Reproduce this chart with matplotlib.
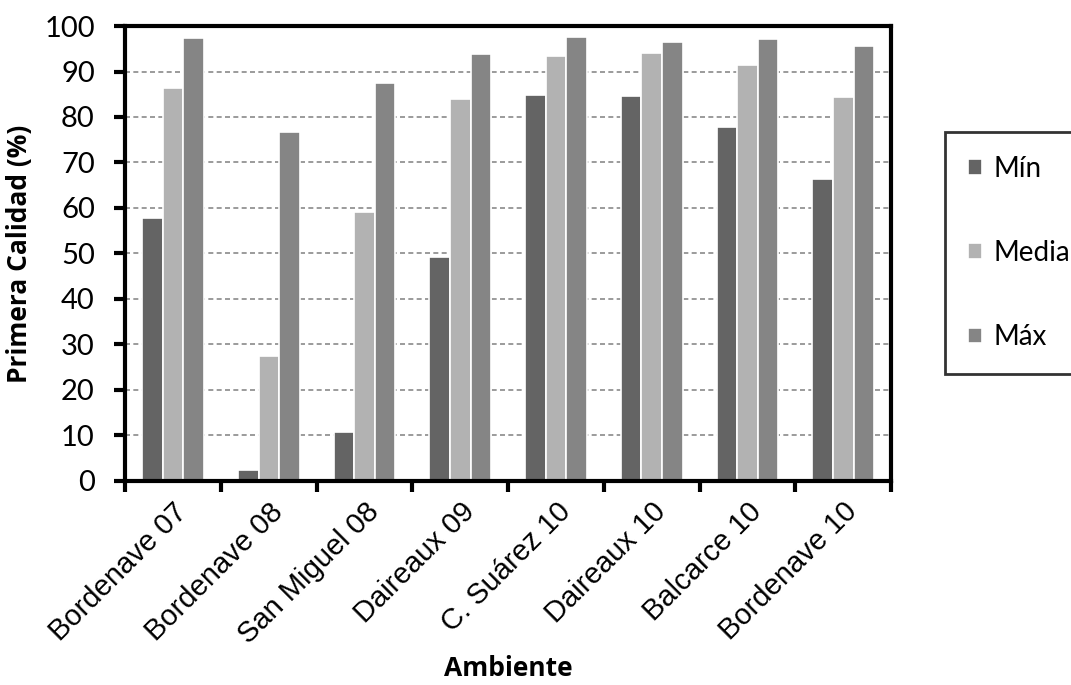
import numpy as np
import matplotlib.pyplot as plt
from matplotlib.ticker import FixedLocator

ambientes = ["Bordenave 07", "Bordenave 08", "San Miguel 08", "Daireaux 09",
             "C. Suárez 10", "Daireaux 10", "Balcarce 10", "Bordenave 10"]
v_min = [57.7, 2.3, 10.8, 49.2, 84.8, 84.6, 77.7, 66.3]
v_media = [86.4, 27.5, 59.1, 84.0, 93.5, 94.1, 91.4, 84.5]
v_max = [97.4, 76.6, 87.5, 93.8, 97.6, 96.5, 97.2, 95.5]
series = ["Mín", "Media", "Máx"]
colores = ["#646464", "#b2b2b2", "#858585"]

fig = plt.figure(figsize=(10.71, 6.85), dpi=100)
ax = fig.add_axes([0.117, 0.298, 0.715, 0.664])

x = np.arange(len(ambientes))
w = 0.215
for k, (vals, nombre, col) in enumerate(zip([v_min, v_media, v_max], series, colores)):
    ax.bar(x + (k - 1) * w, vals, width=w, color=col, edgecolor="white",
           linewidth=1.2, label=nombre, zorder=3)

ax.set_xlim(-0.5, len(ambientes) - 0.5)
ax.set_ylim(0, 100)
ax.set_yticks(np.arange(0, 101, 10))
ax.yaxis.grid(True, linestyle=(0, (3, 2)), color="#8a8a8a", linewidth=1.2, zorder=0)

# ticks at category boundaries, labels at centres
ax.xaxis.set_major_locator(FixedLocator(np.arange(-0.5, len(ambientes), 1.0)))
ax.xaxis.set_minor_locator(FixedLocator(x))
ax.set_xticklabels([])
ax.set_xticklabels(ambientes, minor=True, rotation=45, ha="right",
                   rotation_mode="anchor", fontsize=21, family="Liberation Sans")
ax.tick_params(axis="x", which="major", direction="out", length=8, width=3)
ax.tick_params(axis="x", which="minor", length=0, pad=12)
ax.tick_params(axis="y", direction="out", length=8, width=3, labelsize=21, pad=14)
for lab in ax.get_yticklabels():
    lab.set_family("Lato")

for s in ax.spines.values():
    s.set_linewidth(3)
    s.set_zorder(5)

ax.set_ylabel("Primera Calidad (%)", fontsize=19, fontweight="bold", family="Open Sans", labelpad=8)
ax.set_xlabel("Ambiente", fontsize=19, fontweight="bold", family="Open Sans", labelpad=4)

leg = ax.legend(loc="upper left", bbox_to_anchor=(1.07, 0.767), frameon=True, fancybox=False,
                edgecolor="black", prop={"family": "Lato", "size": 20},
                handlelength=0.5, handleheight=0.5, handletextpad=0.4,
                labelspacing=2.1, borderpad=0.85, borderaxespad=0)
leg.get_frame().set_linewidth(2)

fig.savefig("out.png", dpi=100)
